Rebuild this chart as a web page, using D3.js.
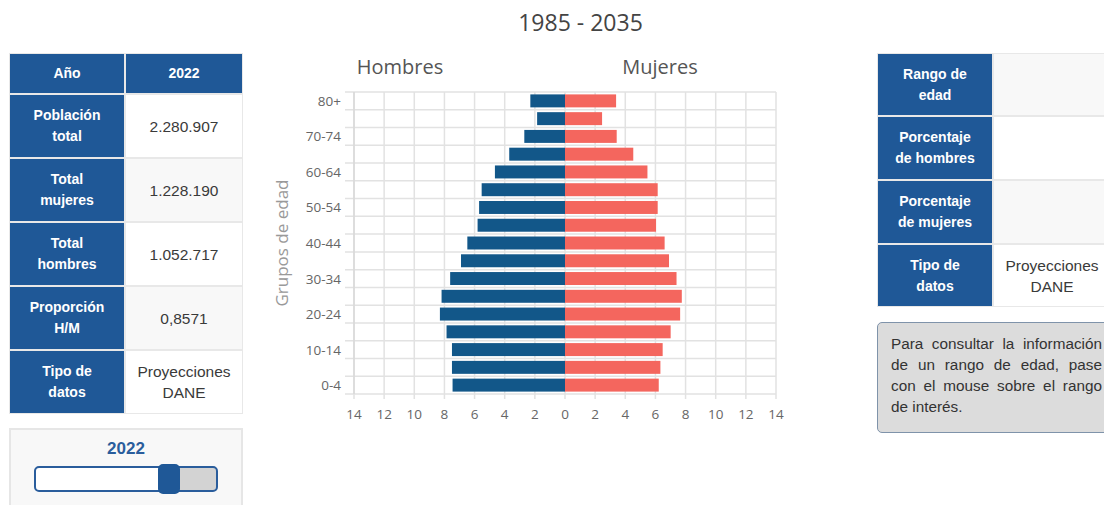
<!DOCTYPE html>
<html><head><meta charset="utf-8">
<script src="https://cdn.jsdelivr.net/npm/d3@7/dist/d3.min.js"></script>
<style>
body{margin:0;background:#fff;width:1104px;height:505px;overflow:hidden;position:relative;font-family:Arial,"Liberation Sans",sans-serif;}
.cell{position:absolute;box-sizing:border-box;display:flex;align-items:center;justify-content:center;text-align:center;font-size:14px;line-height:21px;}
.lab{background:#1f5897;color:#fff;font-weight:bold;}
.val{color:#3a3a3a;font-size:15.5px;}
.ln{position:absolute;left:891px;width:211px;font-size:15.3px;color:#333;white-space:nowrap;}
.ln.j{text-align:justify;text-align-last:justify;white-space:normal;}
</style></head><body>
<svg id="chart" width="1104" height="505" style="position:absolute;left:0;top:0"></svg>
<script>
const ages = ["0-4","5-9","10-14","15-19","20-24","25-29","30-34","35-39","40-44","45-49","50-54","55-59","60-64","65-69","70-74","75-79","80+"];
const hombres = [7.46,7.5,7.5,7.86,8.3,8.19,7.62,6.9,6.48,5.8,5.7,5.53,4.65,3.7,2.7,1.85,2.3];
const mujeres = [6.22,6.33,6.48,7.01,7.64,7.75,7.4,6.9,6.61,6.04,6.15,6.15,5.47,4.53,3.43,2.46,3.39];
const xTicks = [-14,-12,-10,-8,-6,-4,-2,0,2,4,6,8,10,12,14];
const leftLabels = ["Año","Población<br>total","Total<br>mujeres","Total<br>hombres","Proporción<br>H/M","Tipo de<br>datos"];
const leftValues = ["2022","2.280.907","1.228.190","1.052.717","0,8571","Proyecciones<br>DANE"];
const rightLabels = ["Rango de<br>edad","Porcentaje<br>de hombres","Porcentaje<br>de mujeres","Tipo de<br>datos"];
const rightValues = ["","","","Proyecciones<br>DANE"];
const infoLines = ["Para consultar la información","de un rango de edad, pase","con el mouse sobre el rango","de interés."];
const year = 2022, yearMin = 1985, yearMax = 2035;

const svg = d3.select("#chart");
const L = 354, R = 776, T = 92, B = 394;
const x = d3.scaleLinear().domain([-14,14]).range([L,R]);
const y = d3.scaleBand().domain(ages.slice().reverse()).range([T,B]).paddingInner(0.27).paddingOuter(0.135);
const grid = "#e2e2e2";
const F = "'Open Sans',sans-serif";

svg.append("text").attr("x",580.5).attr("y",31).attr("text-anchor","middle")
  .style("font-family",F).style("font-size","23px").attr("fill","#444").text("1985 - 2035");
svg.append("text").attr("x",400).attr("y",74).attr("text-anchor","middle")
  .style("font-family",F).style("font-size","20px").attr("fill","#555").text("Hombres");
svg.append("text").attr("x",660).attr("y",74).attr("text-anchor","middle")
  .style("font-family",F).style("font-size","20px").attr("fill","#555").text("Mujeres");
svg.append("text").attr("transform","translate(288,243) rotate(-90)").attr("text-anchor","middle")
  .style("font-family",F).style("font-size","17px").attr("fill","#999").text("Grupos de edad");

const bounds = d3.range(ages.length+1).map(i => T + i*(B-T)/ages.length);
svg.append("g").selectAll("line").data(bounds).join("line")
  .attr("x1",L-9).attr("x2",R).attr("y1",d=>d).attr("y2",d=>d)
  .attr("stroke",grid).attr("stroke-width",1.5);
svg.append("g").selectAll("line").data(xTicks).join("line")
  .attr("x1",d=>x(d)).attr("x2",d=>x(d)).attr("y1",T).attr("y2",B+5)
  .attr("stroke",grid).attr("stroke-width",1.5);
svg.append("line").attr("x1",L).attr("x2",L).attr("y1",T).attr("y2",B).attr("stroke","#d8d8d8").attr("stroke-width",1.5);

svg.append("g").selectAll("text").data(xTicks).join("text")
  .attr("x",d=>x(d)).attr("y",419).attr("text-anchor","middle")
  .style("font-family",F).style("font-size","13.5px").attr("fill","#666")
  .text(d=>Math.abs(d));
svg.append("g").selectAll("text").data(ages.filter((a,i)=>i%2===0)).join("text")
  .attr("x",L-13).attr("y",d=>y(d)+y.bandwidth()/2+5).attr("text-anchor","end")
  .style("font-family",F).style("font-size","13.5px").attr("fill","#666")
  .text(d=>d);

svg.append("g").selectAll("rect").data(ages).join("rect")
  .attr("x",(d,i)=>x(-hombres[i])).attr("width",(d,i)=>x(0)-x(-hombres[i]))
  .attr("y",d=>y(d)).attr("height",y.bandwidth()).attr("fill","#125789");
svg.append("g").selectAll("rect").data(ages).join("rect")
  .attr("x",x(0)).attr("width",(d,i)=>x(mujeres[i])-x(0))
  .attr("y",d=>y(d)).attr("height",y.bandwidth()).attr("fill","#f4665e");

const body = d3.select("body");
function table(x0, tops, labels, values, bgs, headerRow){
  labels.forEach((lab,i)=>{
    const t = tops[i], h = tops[i+1]-tops[i];
    const isHead = headerRow && i===0;
    body.append("div").attr("class","cell lab")
      .style("left",x0+"px").style("top",t+"px").style("width","116px").style("height",h+"px")
      .style("border","1px solid #e8e8e8").html(lab);
    body.append("div").attr("class","cell " + (isHead ? "lab" : "val"))
      .style("left",(x0+116)+"px").style("top",t+"px").style("width","118px").style("height",h+"px")
      .style("background", isHead ? "#1f5897" : bgs[i])
      .style("border","1px solid #e8e8e8").html(values[i]);
  });
}
table(9,[53,94,158,222,286,350,414],leftLabels,leftValues,["#1f5897","#fff","#f8f8f8","#fff","#f8f8f8","#fff"],true);
table(877,[53,116,180,244,307],rightLabels,rightValues,["#f8f8f8","#fff","#f8f8f8","#fff"],false);

body.append("div").style("position","absolute").style("left","9px").style("top","428px")
  .style("width","234px").style("height","90px").style("box-sizing","border-box")
  .style("background","#f8f8f8").style("border","2px solid #e6e6e6");
body.append("div").style("position","absolute").style("left","9px").style("top","439px").style("width","234px")
  .style("text-align","center").style("font-weight","bold").style("font-size","17px").style("color","#2a5d9c").text(year);
const sx = d3.scaleLinear().domain([yearMin,yearMax]).range([36,216]);
body.append("div").style("position","absolute").style("left","34px").style("top","466px")
  .style("width","184px").style("height","26px").style("box-sizing","border-box")
  .style("border","2px solid #2a5d9c").style("border-radius","5px").style("overflow","hidden")
  .style("background",`linear-gradient(to right,#fff ${sx(year)-34}px,#d3d3d3 ${sx(year)-34}px)`);
body.append("div").style("position","absolute").style("left",(sx(year)-11)+"px").style("top","464px")
  .style("width","22px").style("height","30px").style("border-radius","5px").style("background","#1f5897");

body.append("div").style("position","absolute").style("left","877px").style("top","322px")
  .style("width","240px").style("height","111px").style("box-sizing","border-box")
  .style("background","#dcdcdc").style("border","1.5px solid #7f93aa").style("border-radius","5px");
infoLines.forEach((t,i)=>{
  body.append("div").attr("class","ln"+(i<infoLines.length-1?" j":""))
    .style("top",(335+i*21)+"px").text(t);
});
</script>
</body></html>
